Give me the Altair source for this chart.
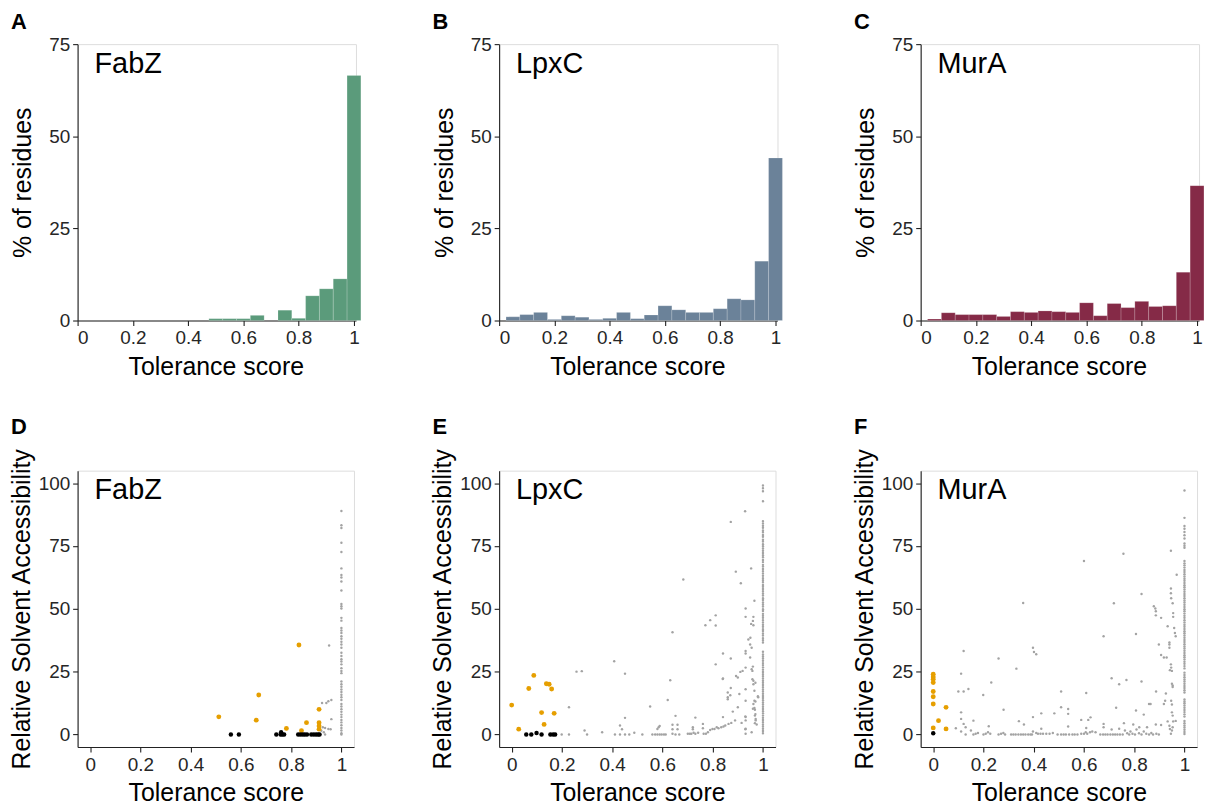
import altair as alt
import pandas as pd

FONT = "Liberation Sans"

# ---------------- histogram data (bin centres, % of residues) ----------------
bin_centers = [0.0, 0.05, 0.1, 0.15, 0.2, 0.25, 0.3, 0.35, 0.4, 0.45, 0.5,
               0.55, 0.6, 0.65, 0.7, 0.75, 0.8, 0.85, 0.9, 0.95, 1.0]
fabz_pct = [0, 0, 0, 0, 0, 0, 0, 0, 0, 0, 0.5,
            0.5, 0.5, 1.4, 0, 2.8, 0.6, 6.7, 8.6, 11.3, 66.5]
lpxc_pct = [0, 1.0, 1.6, 2.2, 0.3, 1.3, 0.9, 0.3, 0.6, 2.2, 0.5,
            1.5, 4.0, 2.9, 2.2, 2.2, 3.2, 5.9, 5.6, 16.1, 44.1]
mura_pct = [0, 0.4, 2.1, 1.6, 1.6, 1.6, 1.1, 2.4, 2.2, 2.6, 2.4,
            2.2, 4.8, 1.3, 4.6, 3.5, 5.2, 3.8, 4.0, 13.1, 36.6]

# ---------------- scatter data ----------------
# FabZ
fabz_gray_x = [1.0] * 52 + [0.951, 0.923, 0.94, 0.948, 0.96, 0.96, 0.926, 0.935,
                             0.948, 0.957, 0.93, 0.935, 0.92]
fabz_gray_y = [88.9, 83.3, 82.2, 76.3, 72.6, 66.1, 63.5, 62.5, 60.9, 57.3, 51.9,
               51.0, 50.1, 46.4, 45.3, 42.4, 41.4, 40.4, 39.1, 38.1, 36.9, 35.8,
               34.5, 32.5, 31.2, 29.9, 29.0, 27.9, 26.4, 25.3, 24.4, 21.1, 20.0,
               19.0, 17.9, 16.9, 15.8, 14.8, 13.7, 12.1, 11.1, 10.0, 9.0, 7.9,
               6.9, 5.8, 4.8, 3.7, 2.6, 1.6, 0.5, 0.0] + \
              [35.4, 12.5, 12.5, 13.2, 13.7, 6.1, 2.9, 2.6, 2.2, 2.1, 0.9, 0.0, 1.5]
fabz_orange_x = [0.512, 0.661, 0.671, 0.781, 0.831, 0.841, 0.861, 0.911, 0.911, 0.911, 0.911]
fabz_orange_y = [7.0, 5.7, 15.7, 2.4, 35.6, 1.5, 4.7, 10.0, 4.7, 3.4, 2.1]
fabz_black_x = [0.560, 0.592, 0.741, 0.758, 0.765, 0.772, 0.760, 0.828, 0.837, 0.846,
                0.854, 0.863, 0.880, 0.890, 0.899, 0.907, 0.913]
fabz_black_y = [0, 0, 0, 0, 0, 0, 0.9, 0, 0, 0, 0, 0, 0, 0, 0, 0, 0]

# LpxC
lpxc_col_y = [99.1, 98.0, 96.8, 92.8, 84.9, 84.0, 83.1, 82.3, 81.2, 80.5, 79.4, 78.7,
              77.5, 76.8, 75.7, 74.9, 74.0, 73.1, 72.2, 71.3, 70.5, 69.4, 68.6, 67.5,
              66.8, 65.9, 65.0, 64.1, 63.2, 62.2, 61.4, 60.6, 59.5, 58.8, 57.9, 57.0,
              56.1, 55.3, 54.2, 53.5, 52.5, 51.7, 50.9, 49.8, 49.1, 48.0, 47.2, 46.4,
              45.5, 44.6, 43.7, 42.9, 41.9, 41.2, 40.2, 39.4, 38.3, 37.5, 36.6, 32.9,
              31.8, 31.0, 30.2, 29.3, 28.4, 27.6, 26.7, 25.8, 24.9, 24.0, 23.2, 22.3,
              21.4, 20.6, 19.7, 18.8, 17.9, 17.1, 16.2, 15.3, 14.5, 13.6, 12.7, 11.9,
              11.0, 10.1, 9.2, 8.4, 7.5, 6.6, 5.8, 4.9, 4.0, 3.2, 2.3, 1.4, 0.5]
lpxc_other_x = [0.199, 0.228, 0.228, 0.258, 0.279, 0.290, 0.300, 0.36, 0.408, 0.411,
                0.431, 0.431, 0.439, 0.451, 0.451, 0.451, 0.468, 0.488,
                0.52, 0.551, 0.56, 0.571, 0.58, 0.589, 0.597, 0.606, 0.613, 0.58, 0.585, 0.589,
                0.621, 0.631, 0.640, 0.64, 0.64, 0.64, 0.652, 0.66, 0.66, 0.652, 0.667,
                0.683, 0.701, 0.709, 0.715, 0.724, 0.731, 0.742, 0.721, 0.721, 0.731, 0.761, 0.761,
                0.764, 0.773, 0.781, 0.79, 0.799, 0.807, 0.816, 0.823, 0.834, 0.843, 0.85, 0.863, 0.874,
                0.771, 0.790, 0.812, 0.812, 0.812, 0.841, 0.841, 0.841, 0.86, 0.86, 0.86,
                0.872, 0.872, 0.872, 0.88, 0.889, 0.892, 0.893, 0.9, 0.9, 0.906, 0.912,
                0.91, 0.915, 0.919,
                0.929, 0.931, 0.931, 0.931, 0.931, 0.931, 0.931, 0.931, 0.931, 0.931, 0.931, 0.931,
                0.942, 0.949, 0.955, 0.949, 0.955, 0.958, 0.958, 0.962, 0.962, 0.966, 0.966, 0.962,
                0.966, 0.968, 0.968, 0.971, 0.968, 0.955,
                0.953, 0.953, 0.962, 0.962, 0.966, 0.981, 0.971, 0.975,
                0.96, 0.97, 0.96, 0.97, 0.97, 0.98, 0.95, 0.96, 0.84, 0.87, 0.93, 0.93]
lpxc_other_y = [0, 0, 10.8, 25.0, 25.2, 1.6, 0, 0.9, 29.1, 0,
                0, 3.6, 2.1, 6.6, 24.2, 0, 0, 0.7,
                0, 11.1, 0, 0, 0, 0, 0, 0, 0, 2.2, 2.9, 3.4,
                13.7, 21.6, 40.7, 2.1, 3.9, 0.3, 7.4, 3.9, 2.1, 0, 0,
                61.7, 0.3, 0.3, 0.3, 0.7, 0.3, 0.7, 2.9, 2.1, 6.7, 4.2, 2.5,
                0.3, 0.3, 0.9, 1.8, 2.2, 2.2, 2.9, 2.5, 2.9, 3.2, 3.6, 4.2, 4.6,
                43.5, 45.5, 47.4, 43.4, 27.9, 32.2, 22.3, 6.9, 16.7, 14.8, 14.0,
                84.6, 30.2, 18.5, 9.1, 5.6, 64.8, 23.3, 22.7, 10.8, 16.1, 60.2,
                24.9, 4.6, 25.3,
                88.8, 50.1, 46.8, 33.2, 32.2, 26.6, 18.0, 13.4, 6.9, 5.6, 2.3, 0.3,
                37.8, 35.8, 34.5, 30.6, 26.0, 25.3, 22.0, 21.4, 20.0, 17.4, 13.4, 12.1,
                10.5, 9.8, 7.5, 5.6, 4.5, 0.9,
                66.1, 44.0, 43.5, 46.8, 53.2, 14.8, 6.2, 4.0,
                27.0, 20.6, 10.2, 13.1, 8.1, 15.2, 38.5, 45.2, 22.1, 15.6, 7.2, 2.1]
lpxc_gray_x = [1.0] * len(lpxc_col_y) + lpxc_other_x
lpxc_gray_y = lpxc_col_y + lpxc_other_y
lpxc_orange_x = [0.0, 0.028, 0.068, 0.088, 0.119, 0.129, 0.138, 0.149, 0.159, 0.169]
lpxc_orange_y = [11.7, 2.1, 18.3, 23.5, 8.7, 4.0, 20.2, 20.0, 18.1, 8.4]
lpxc_black_x = [0.058, 0.078, 0.099, 0.119, 0.154, 0.165, 0.173]
lpxc_black_y = [0, 0, 0.6, 0, 0, 0, 0]

# MurA
mura_col_y = [97.1, 86.2, 83.0, 81.9, 80.6, 79.3, 78.0, 76.0, 75.1, 74.3, 69.0, 68.1,
              67.3, 66.4, 65.5, 64.7, 63.8, 62.9, 62.0, 61.2, 60.3, 59.4, 58.6, 57.7,
              56.8, 55.9, 55.1, 54.2, 53.3, 52.5, 51.6, 50.7, 49.8, 49.0, 48.1, 47.2,
              46.4, 45.5, 44.6, 43.7, 42.9, 42.0, 41.1, 40.3, 39.4, 38.5, 37.6, 36.8,
              35.9, 35.0, 34.2, 33.3, 32.4, 31.5, 30.7, 29.8, 28.9, 28.1, 27.2, 26.3,
              24.6, 23.7, 22.8, 21.9, 21.1, 20.2, 19.3, 18.5, 17.6, 16.7, 13.9, 13.1,
              12.4, 11.5, 10.6, 9.7, 8.9, 8.0, 7.1, 5.4, 4.5, 3.6, 2.8, 1.9, 1.0, 0.2]
mura_other_x = [0.09, 0.1, 0.111, 0.111, 0.111, 0.111, 0.121, 0.121, 0.121, 0.129, 0.129,
                0.14, 0.15, 0.16, 0.16, 0.169, 0.178, 0.199, 0.2, 0.209, 0.218, 0.227,
                0.221, 0.231, 0.26, 0.27, 0.279, 0.286, 0.26, 0.28,
                0.31, 0.319, 0.328, 0.339, 0.349, 0.358, 0.367, 0.378, 0.387, 0.393,
                0.331, 0.341, 0.358, 0.361, 0.397, 0.401, 0.41, 0.397, 0.397, 0.41,
                0.417, 0.427, 0.437, 0.45, 0.463, 0.476, 0.43, 0.43,
                0.482, 0.509, 0.509, 0.537, 0.537, 0.537, 0.495, 0.509, 0.519, 0.528,
                0.541, 0.554, 0.563, 0.574, 0.589, 0.589, 0.6, 0.607, 0.613, 0.624,
                0.633, 0.646,
                0.6, 0.609, 0.609, 0.617, 0.626, 0.678, 0.678, 0.678, 0.665, 0.676,
                0.685, 0.694, 0.705, 0.715, 0.724, 0.733, 0.743, 0.754, 0.71, 0.71,
                0.719, 0.728, 0.74, 0.74, 0.757, 0.759, 0.769,
                0.763, 0.772, 0.78, 0.785, 0.793, 0.803, 0.809, 0.819, 0.829, 0.838,
                0.848, 0.859, 0.868, 0.875, 0.888, 0.898,
                0.796, 0.807, 0.807, 0.82, 0.829, 0.829, 0.838, 0.851, 0.859, 0.865,
                0.878, 0.884, 0.886, 0.886, 0.886, 0.887, 0.898, 0.907, 0.907, 0.907,
                0.918, 0.918, 0.923, 0.926, 0.929, 0.933, 0.94,
                0.933, 0.94, 0.942, 0.946, 0.95,
                0.94, 0.94, 0.942, 0.946, 0.947, 0.95, 0.95, 0.953, 0.953, 0.947,
                0.95, 0.953, 0.955, 0.946, 0.946, 0.947, 0.953, 0.955, 0.955, 0.959,
                0.962, 0.965, 0.969, 0.946, 0.95, 0.965, 0.953]
mura_other_y = [2.5, 17.1, 24.2, 8.8, 6.2, 1.2, 17.1, 33.2, 4.2, 2.9, 0,
                18.1, 1.6, 5.5, 0, 0.3, 0.6, 15.7, 0, 0.3, 0.9, 0.3,
                3.3, 20.7, 0, 0.3, 0.6, 0, 30.2, 9.8,
                0, 0, 0, 0, 0, 0, 0, 0, 0, 0,
                26.2, 5.3, 52.3, 4.0, 34.5, 32.8, 31.9, 6.9, 1.2, 0.6,
                0.3, 0.3, 0.3, 0.3, 0.3, 0.6, 8.4, 2.3,
                8.4, 17.1, 10.8, 10.1, 8.2, 3.2, 0, 0, 0, 0,
                0, 0, 0, 0, 5.8, 0.3, 0.3, 0.9, 0.3, 0.9,
                1.2, 0.9,
                69.0, 16.5, 2.6, 5.8, 6.8, 39.1, 4.2, 2.9, 0, 0,
                0, 0, 0, 0, 0, 0, 0, 0, 22.4, 2.0,
                52.2, 10.6, 20.0, 2.3, 71.9, 4.5, 21.7,
                1.6, 0.5, 0, 1.2, 0.3, 0, 2.0, 0.5, 0, 1.2,
                0.3, 0, 0.6, 0, 0.3, 0,
                4.0, 40.0, 9.5, 2.9, 55.9, 21.1, 7.9, 2.9, 12.1, 12.1,
                51.0, 50.1, 49.0, 47.4, 4.0, 17.1, 35.8, 46.4, 31.6, 3.8,
                30.6, 12.1, 13.4, 16.3, 30.6, 43.1, 34.5,
                5.2, 3.5, 2.2, 0.3, 1.6,
                36.6, 35.8, 25.6, 27.9, 26.6, 25.3, 20.2, 19.5, 18.9, 13.4,
                8.8, 7.5, 5.2, 58.1, 56.2, 54.2, 52.2, 48.3, 46.8, 42.4,
                40.4, 39.1, 63.6, 73.1, 11.9, 5.4, 2.9]
mura_gray_x = [1.0] * len(mura_col_y) + mura_other_x
mura_gray_y = mura_col_y + mura_other_y
mura_orange_x = [0, 0, 0, 0, 0, 0, 0, 0, 0.051, 0.021, 0.051]
mura_orange_y = [24.0, 22.9, 22.0, 20.7, 17.1, 15.0, 12.1, 2.6, 10.8, 5.5, 2.2]
mura_black_x = [0.0]
mura_black_y = [0.5]

# ---------------- styling ----------------
AX = dict(domainColor="#222222", domainWidth=1.1, tickColor="#222222", tickWidth=1.1,
          tickSize=5, labelFontSize=19, labelColor="#262626", labelFont=FONT,
          titleFont=FONT, titleFontSize=25, titleFontWeight="normal", titleColor="#000000",
          grid=False, labelPadding=3)
XTICKS = [0, 0.2, 0.4, 0.6, 0.8, 1]


def labels(name, letter):
    nm = alt.Chart(pd.DataFrame({"t": [name]})).mark_text(
        font=FONT, fontSize=29, align="left", baseline="alphabetic", color="#000000"
    ).encode(text="t:N", x=alt.value(17), y=alt.value(29))
    lt = alt.Chart(pd.DataFrame({"t": [letter]})).mark_text(
        font=FONT, fontSize=22, fontWeight="bold", align="left", baseline="alphabetic",
        color="#000000"
    ).encode(text="t:N", x=alt.value(-67), y=alt.value(-15 if letter in "ABC" else -37))
    return nm, lt


def hist(name, pct, color, letter):
    df = pd.DataFrame({"center": bin_centers, "pct": pct})
    bars = alt.Chart(df).transform_filter("datum.pct > 0").transform_calculate(
        x0="datum.center - 0.025", x1="datum.center + 0.025"
    ).mark_rect(color=color, stroke="#ffffff", strokeWidth=0.5, strokeOpacity=0.35).encode(
        x=alt.X("x0:Q", scale=alt.Scale(domain=[0, 1.0072], nice=False, zero=False),
                axis=alt.Axis(values=XTICKS, format="~g", title="Tolerance score",
                              titlePadding=7, titleX=139, **AX)),
        x2="x1:Q",
        y=alt.Y("pct:Q", scale=alt.Scale(domain=[0, 75], nice=False),
                axis=alt.Axis(values=[0, 25, 50, 75], format="d", title="% of residues",
                              titlePadding=13, **AX)),
        y2=alt.datum(0),
    )
    nm, lt = labels(name, letter)
    return alt.layer(bars, nm, lt).properties(width=280, height=278)


def scatter(name, gx, gy, ox, oy, bx, by, letter):
    xs = alt.Scale(domain=[-0.05, 1.05], nice=False, zero=False)
    ys = alt.Scale(domain=[-5, 105], nice=False, zero=False)
    xa = alt.Axis(values=XTICKS, format="~g", title="Tolerance score", titlePadding=6,
                  **{**AX, "labelPadding": 4})
    ya = alt.Axis(values=[0, 25, 50, 75, 100], format="d",
                  title="Relative Solvent Accessibility", titlePadding=4, **AX)
    gdf = pd.DataFrame({"x": gx, "y": gy})
    odf = pd.DataFrame({"x": ox, "y": oy})
    bdf = pd.DataFrame({"x": bx, "y": by})
    g = alt.Chart(gdf).mark_circle(color="#a3a3a3", opacity=1, size=6).encode(
        x=alt.X("x:Q", scale=xs, axis=xa), y=alt.Y("y:Q", scale=ys, axis=ya))
    o = alt.Chart(odf).mark_circle(color="#e69f00", opacity=1, size=24).encode(
        x=alt.X("x:Q", scale=xs), y=alt.Y("y:Q", scale=ys))
    b = alt.Chart(bdf).mark_circle(color="#000000", opacity=1, size=20).encode(
        x=alt.X("x:Q", scale=xs), y=alt.Y("y:Q", scale=ys))
    nm, lt = labels(name, letter)
    return alt.layer(g, o, b, nm, lt).properties(width=278, height=278)


panels = [
    hist("FabZ", fabz_pct, "#5b9b7b", "A"),
    hist("LpxC", lpxc_pct, "#6b8299", "B"),
    hist("MurA", mura_pct, "#852a47", "C"),
    scatter("FabZ", fabz_gray_x, fabz_gray_y, fabz_orange_x, fabz_orange_y,
            fabz_black_x, fabz_black_y, "D"),
    scatter("LpxC", lpxc_gray_x, lpxc_gray_y, lpxc_orange_x, lpxc_orange_y,
            lpxc_black_x, lpxc_black_y, "E"),
    scatter("MurA", mura_gray_x, mura_gray_y, mura_orange_x, mura_orange_y,
            mura_black_x, mura_black_y, "F"),
]

chart = alt.concat(*panels, columns=3, spacing={"row": 151, "column": 144},
                   bounds="flush").properties(
    padding={"left": 0, "top": 0, "right": 0, "bottom": 0}
).configure_view(stroke=None).configure(background="white")

chart.save("out.html", embed_options={"renderer": "svg", "actions": False})
